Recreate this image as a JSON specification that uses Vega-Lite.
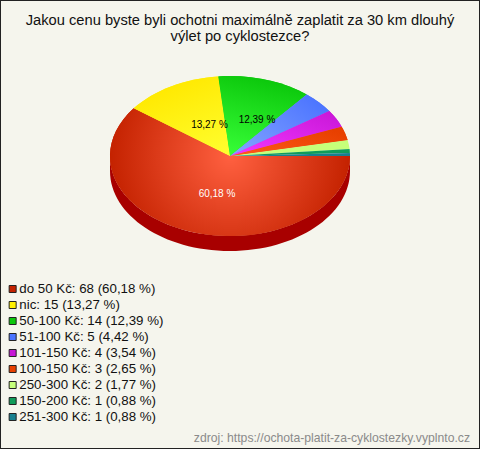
{
"$schema":"https://vega.github.io/schema/vega-lite/v6.json",
"width":480,"height":449,
"autosize":{"type":"none"},
"padding":0,
"background":"#f5f5ed",
"view":{"stroke":"#222222","strokeWidth":2,"fill":"#f5f5ed"},
"title":{"text":["Jakou cenu byste byli ochotni maximálně zaplatit za 30 km dlouhý","výlet po cyklostezce?"],"orient":"top","anchor":"middle","offset":-44,"font":"Liberation Sans","fontSize":14.7,"fontWeight":"normal","color":"#111111","lineHeight":16},
"data":{"values":[
{"kategorie":"do 50 Kč","pocet":68,"podil":60.18,"popis":"do 50 Kč: 68 (60,18 %)","stitek":"60,18 %"},
{"kategorie":"nic","pocet":15,"podil":13.27,"popis":"nic: 15 (13,27 %)","stitek":"13,27 %"},
{"kategorie":"50-100 Kč","pocet":14,"podil":12.39,"popis":"50-100 Kč: 14 (12,39 %)","stitek":"12,39 %"},
{"kategorie":"51-100 Kč","pocet":5,"podil":4.42,"popis":"51-100 Kč: 5 (4,42 %)","stitek":"4,42 %"},
{"kategorie":"101-150 Kč","pocet":4,"podil":3.54,"popis":"101-150 Kč: 4 (3,54 %)","stitek":"3,54 %"},
{"kategorie":"100-150 Kč","pocet":3,"podil":2.65,"popis":"100-150 Kč: 3 (2,65 %)","stitek":"2,65 %"},
{"kategorie":"250-300 Kč","pocet":2,"podil":1.77,"popis":"250-300 Kč: 2 (1,77 %)","stitek":"1,77 %"},
{"kategorie":"150-200 Kč","pocet":1,"podil":0.88,"popis":"150-200 Kč: 1 (0,88 %)","stitek":"0,88 %"},
{"kategorie":"251-300 Kč","pocet":1,"podil":0.88,"popis":"251-300 Kč: 1 (0,88 %)","stitek":"0,88 %"}
]},
"encoding":{
"shape":{"field":"kategorie","type":"nominal","legend":null,"scale":{
"domain":["do 50 Kč","nic","50-100 Kč","51-100 Kč","101-150 Kč","100-150 Kč","250-300 Kč","150-200 Kč","251-300 Kč"],
"range":[
"M0,0 L120,0 A120,80 0 1 1 -96.3,-47.7 Z",
"M0,0 L-96.3,-47.7 A120,80 0 0 1 -11.7,-79.6 Z",
"M0,0 L-11.7,-79.6 A120,80 0 0 1 76.7,-61.5 Z",
"M0,0 L76.7,-61.5 A120,80 0 0 1 99.3,-44.9 Z",
"M0,0 L99.3,-44.9 A120,80 0 0 1 111.7,-29.2 Z",
"M0,0 L111.7,-29.2 A120,80 0 0 1 117.6,-15.9 Z",
"M0,0 L117.6,-15.9 A120,80 0 0 1 119.6,-7 Z",
"M0,0 L119.6,-7 A120,80 0 0 1 119.9,-3 Z",
"M0,0 L119.9,-3 A120,80 0 0 1 120,0 Z"
]}}
},
"layer":[
{"transform":[{"filter":"datum.kategorie==='do 50 Kč'"}],
 "mark":{"type":"point","filled":true,"opacity":1,"size":4,"xOffset":-10,"yOffset":-68.5,"fill":"#a80000"},
 "encoding":{"shape":{"value":"M-120,0 A120,80 0 0 0 120,0 L120,15 A120,80 0 0 1 -120,15 Z"}}},
{"mark":{"type":"point","filled":true,"opacity":1,"size":4,"xOffset":-10,"yOffset":-68.5},
 "encoding":{"fill":{"field":"popis","type":"nominal","sort":null,"scale":{
   "domain":["do 50 Kč: 68 (60,18 %)","nic: 15 (13,27 %)","50-100 Kč: 14 (12,39 %)","51-100 Kč: 5 (4,42 %)","101-150 Kč: 4 (3,54 %)","100-150 Kč: 3 (2,65 %)","250-300 Kč: 2 (1,77 %)","150-200 Kč: 1 (0,88 %)","251-300 Kč: 1 (0,88 %)"],
   "range":["#c42200","#fff000","#0cc80c","#4b74ff","#c716d6","#e84000","#c6ff7a","#0f9c5a","#17808f"]},
   "legend":{"title":null,"orient":"none","legendX":6,"legendY":281,"symbolType":"square","symbolSize":49,"symbolStrokeColor":"#222222","symbolStrokeWidth":1,"symbolOpacity":1,"labelFont":"Liberation Sans","labelFontSize":13.3,"labelColor":"#111111","labelLimit":300,"labelOffset":0,"rowPadding":0,"clipHeight":16,"columns":1}}}},
{"transform":[{"filter":"datum.kategorie==='do 50 Kč'"}],
 "mark":{"type":"point","filled":true,"opacity":1,"size":4,"xOffset":-10,"yOffset":-68.5,"fill":{"gradient":"radial","x1":0.5,"y1":0.433,"r1":0,"x2":0.5,"y2":0.433,"r2":0.5,"stops":[{"offset":0,"color":"#ff6040"},{"offset":1,"color":"#c42200"}]}}},
{"transform":[{"filter":"datum.kategorie==='nic'"}],
 "mark":{"type":"point","filled":true,"opacity":1,"size":4,"xOffset":-10,"yOffset":-68.5,"fill":{"gradient":"linear","x1":0.5,"y1":0,"x2":1,"y2":1,"stops":[{"offset":0,"color":"#ffe800"},{"offset":1,"color":"#ffff30"}]}}},
{"transform":[{"filter":"datum.kategorie==='50-100 Kč'"}],
 "mark":{"type":"point","filled":true,"opacity":1,"size":4,"xOffset":-10,"yOffset":-68.5,"fill":{"gradient":"linear","x1":0.4,"y1":0,"x2":0.13,"y2":1,"stops":[{"offset":0,"color":"#0cc80c"},{"offset":1,"color":"#38ff38"}]}}},
{"transform":[{"filter":"datum.kategorie==='51-100 Kč'"}],
 "mark":{"type":"point","filled":true,"opacity":1,"size":4,"xOffset":-10,"yOffset":-68.5,"fill":{"gradient":"linear","x1":1,"y1":0.2,"x2":0,"y2":1,"stops":[{"offset":0,"color":"#4b74ff"},{"offset":1,"color":"#85a5ff"}]}}},
{"transform":[{"filter":"datum.kategorie==='101-150 Kč'"}],
 "mark":{"type":"point","filled":true,"opacity":1,"size":4,"xOffset":-10,"yOffset":-68.5,"fill":{"gradient":"linear","x1":1,"y1":0,"x2":0,"y2":1,"stops":[{"offset":0,"color":"#c716d6"},{"offset":1,"color":"#f438ff"}]}}},
{"transform":[{"filter":"datum.kategorie==='100-150 Kč'"}],
 "mark":{"type":"point","filled":true,"opacity":1,"size":4,"xOffset":-10,"yOffset":-68.5,"fill":{"gradient":"linear","x1":1,"y1":0.3,"x2":0,"y2":1,"stops":[{"offset":0,"color":"#e84000"},{"offset":1,"color":"#ff5a1a"}]}}},
{"transform":[{"filter":"datum.kategorie==='do 50 Kč'"}],
 "mark":{"type":"text","dx":-23,"dy":-30.5,"font":"Liberation Sans","fontSize":10,"color":"#ffffff"},
 "encoding":{"shape":null,"text":{"field":"stitek"}}},
{"transform":[{"filter":"datum.kategorie==='nic'"}],
 "mark":{"type":"text","dx":-30.5,"dy":-99.5,"font":"Liberation Sans","fontSize":10,"color":"#000000"},
 "encoding":{"shape":null,"text":{"field":"stitek"}}},
{"transform":[{"filter":"datum.kategorie==='50-100 Kč'"}],
 "mark":{"type":"text","dx":17,"dy":-104.5,"font":"Liberation Sans","fontSize":10,"color":"#000000"},
 "encoding":{"shape":null,"text":{"field":"stitek"}}},
{"transform":[{"filter":"datum.kategorie==='do 50 Kč'"}],
 "mark":{"type":"text","align":"right","dx":230,"dy":213.5,"font":"Liberation Sans","fontSize":12.2,"color":"#8a8a8a"},
 "encoding":{"shape":null,"text":{"value":"zdroj: https://ochota-platit-za-cyklostezky.vyplnto.cz"}}}
]
}
